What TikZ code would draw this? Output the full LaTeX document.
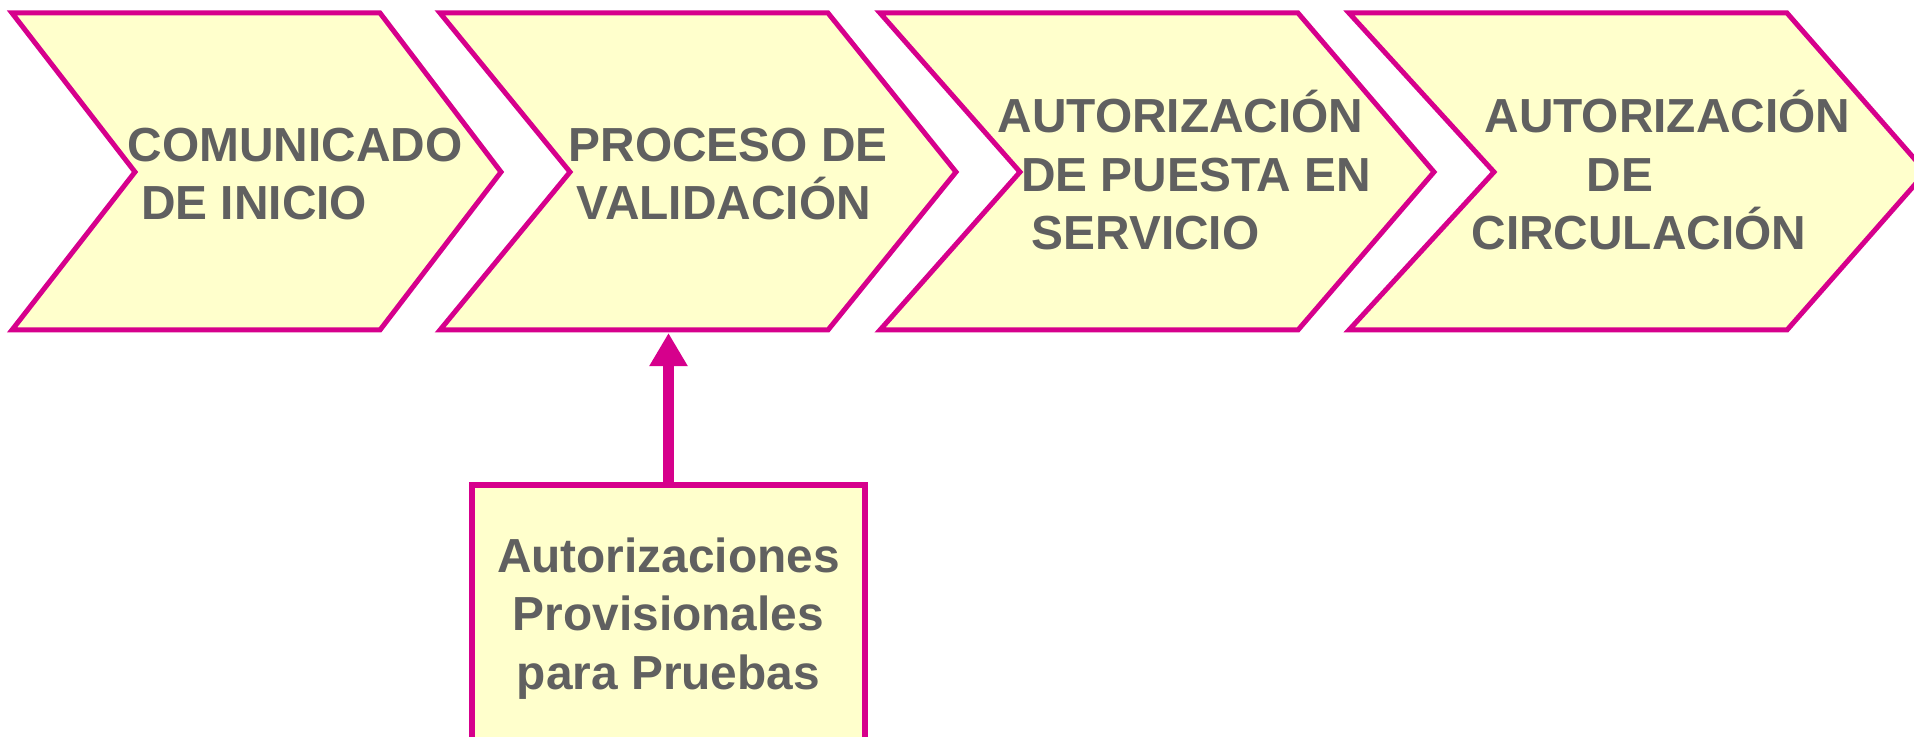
\documentclass[tikz,border=0pt]{standalone}
\usepackage{fontspec}
\setmainfont{Liberation Sans}
\usetikzlibrary{arrows.meta}

\definecolor{rosa}{RGB}{214,0,140}
\definecolor{crema}{RGB}{255,255,204}
\definecolor{gris}{RGB}{96,96,96}

\begin{document}
\begin{tikzpicture}[x=0.01cm, y=-0.01cm,
    chevron/.style={draw=rosa, fill=crema, line width=0.05cm},
    rotulo/.style={text=gris, font=\fontsize{13.6}{16.65}\selectfont\bfseries, align=left, inner sep=0pt, anchor=base west},
    caja/.style={draw=rosa, fill=crema, line width=0.06cm, minimum width=3.93cm, minimum height=2.67cm, anchor=north,
                 align=center, text=gris, font=\fontsize{13.6}{16.65}\selectfont\bfseries},
    flecha/.style={rosa, line width=0.11cm, -{Triangle[length=0.33cm, width=0.36cm]}}]

	% marco de la imagen
	\useasboundingbox (0,0) rectangle (1914,737);

	% las cuatro etapas: izquierda/muesca/derecha/punta
	\foreach \izq/\mue/\der/\pun in {12/135/380/501, 440/570/828/956, 880/1020/1298/1434, 1349/1494/1787/1926}
		{\draw[chevron] (\izq,13) -- (\der,13) -- (\pun,172) -- (\der,330) -- (\izq,330) -- (\mue,172) -- cycle;}

	% textos de las etapas (base = linea de base de la ultima linea)
	\node[rotulo] (inicio) at (127,220) {COMUNICADO\\\hspace*{0.135cm}DE INICIO};
	\node[rotulo] (valida) at (568,220) {PROCESO DE\\\hspace*{0.08cm}VALIDACIÓN};
	\node[rotulo] (puesta) at (997,250) {AUTORIZACIÓN\\\hspace*{0.235cm}DE PUESTA EN\\\hspace*{0.34cm}SERVICIO};
	\node[rotulo] (circula) at (1470.8,250) {\hspace*{0.13cm}AUTORIZACIÓN\\\hspace*{1.15cm}DE\\CIRCULACIÓN};

	% autorizaciones provisionales
	\node[caja] (prov) at (668.5,482) {Autorizaciones\\Provisionales\\para Pruebas};
	\coordinate (entrada) at (668.5,333);
	\draw[flecha] (prov.north) -- (entrada);
\end{tikzpicture}
\end{document}
